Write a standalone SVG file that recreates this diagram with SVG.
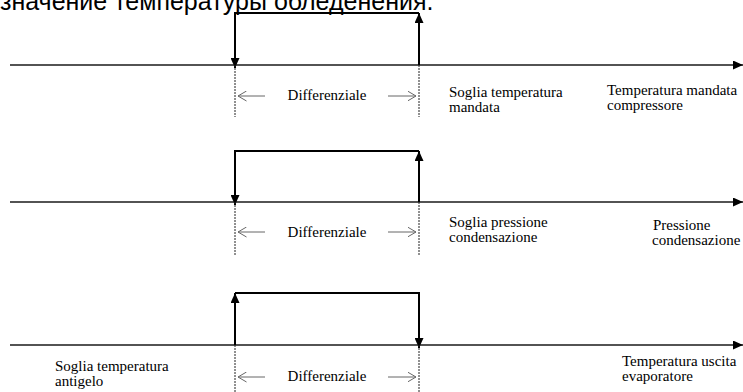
<svg xmlns="http://www.w3.org/2000/svg" width="743" height="392" viewBox="0 0 743 392">
<style>
.t{font-family:"Liberation Serif","Times New Roman",serif;font-size:15px;fill:#000}
.ru{font-family:"Liberation Sans",Arial,sans-serif;font-size:25px;fill:#000}
.axis{stroke:#1a1a1a;stroke-width:1.6;fill:none}
.step{stroke:#000;stroke-width:2;fill:none}
.dot{stroke:#222;stroke-width:1;stroke-dasharray:2 1;fill:none}
.diff{stroke:#666;stroke-width:1;fill:none}
</style>
<defs>
<marker id="fa" markerUnits="userSpaceOnUse" markerWidth="10" markerHeight="9" refX="10" refY="4.5" orient="auto"><path d="M0,0 L10,4.5 L0,9 z" fill="#000"/></marker>
<marker id="oa" markerUnits="userSpaceOnUse" markerWidth="9" markerHeight="11" refX="8.5" refY="5.5" orient="auto"><path d="M0,0.5 L8.5,5.5 L0,10.5" fill="none" stroke="#666" stroke-width="1"/></marker>
</defs>
<text class="ru" x="0" y="10">значение температуры обледенения.</text>

<g id="panel1">
<text class="t" x="449" y="97">Soglia temperatura</text>
<text class="t" x="449" y="112">mandata</text>
<text class="t" x="607" y="95">Temperatura mandata</text>
<text class="t" x="607" y="110">compressore</text>
<text class="t" x="327" y="100" text-anchor="middle">Differenziale</text>
</g>
<g id="panel2">
<text class="t" x="449" y="227">Soglia pressione</text>
<text class="t" x="449" y="242">condensazione</text>
<text class="t" x="653" y="230">Pressione</text>
<text class="t" x="652" y="245">condensazione</text>
<text class="t" x="327" y="237" text-anchor="middle">Differenziale</text>
</g>
<g id="panel3">
<text class="t" x="55" y="371">Soglia temperatura</text>
<text class="t" x="55" y="386">antigelo</text>
<text class="t" x="622" y="366">Temperatura uscita</text>
<text class="t" x="622" y="381">evaporatore</text>
<text class="t" x="327" y="381" text-anchor="middle">Differenziale</text>
</g>

<g id="connectors">
<!-- panel 1 -->
<line class="axis" x1="10" y1="65" x2="743" y2="65" marker-end="url(#fa)"/>
<line class="step" x1="235" y1="13" x2="419" y2="13"/>
<line class="step" x1="235" y1="12" x2="235" y2="68" marker-end="url(#fa)"/>
<line class="step" x1="419" y1="65" x2="419" y2="13" marker-end="url(#fa)"/>
<line class="dot" x1="235" y1="65" x2="235" y2="117"/>
<line class="dot" x1="419" y1="65" x2="419" y2="117"/>
<line class="diff" x1="265" y1="96" x2="238" y2="96" marker-end="url(#oa)"/>
<line class="diff" x1="388" y1="96" x2="416" y2="96" marker-end="url(#oa)"/>
<!-- panel 2 -->
<line class="axis" x1="10" y1="202" x2="743" y2="202" marker-end="url(#fa)"/>
<line class="step" x1="235" y1="151" x2="419" y2="151"/>
<line class="step" x1="235" y1="150" x2="235" y2="205" marker-end="url(#fa)"/>
<line class="step" x1="419" y1="202" x2="419" y2="151" marker-end="url(#fa)"/>
<line class="dot" x1="235" y1="202" x2="235" y2="255"/>
<line class="dot" x1="419" y1="202" x2="419" y2="255"/>
<line class="diff" x1="265" y1="232" x2="238" y2="232" marker-end="url(#oa)"/>
<line class="diff" x1="388" y1="232" x2="416" y2="232" marker-end="url(#oa)"/>
<!-- panel 3 -->
<line class="axis" x1="10" y1="345" x2="743" y2="345" marker-end="url(#fa)"/>
<line class="step" x1="235" y1="293" x2="419" y2="293"/>
<line class="step" x1="235" y1="345" x2="235" y2="293" marker-end="url(#fa)"/>
<line class="step" x1="419" y1="292" x2="419" y2="348" marker-end="url(#fa)"/>
<line class="dot" x1="235" y1="345" x2="235" y2="392"/>
<line class="dot" x1="419" y1="345" x2="419" y2="392"/>
<line class="diff" x1="265" y1="377" x2="238" y2="377" marker-end="url(#oa)"/>
<line class="diff" x1="388" y1="377" x2="416" y2="377" marker-end="url(#oa)"/>
</g>
</svg>
